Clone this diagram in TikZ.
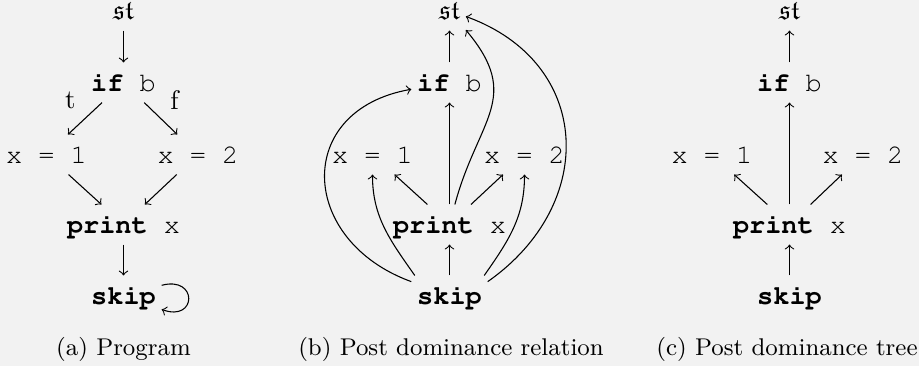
\documentclass[tikz,border=0pt]{standalone}
\usepackage{fontspec}
\usepackage{amssymb}
\newcommand\cour{\fontencoding{T1}\fontfamily{pcr}\selectfont}
\definecolor{bgc}{HTML}{F2F2F2}
\begin{document}
\begin{tikzpicture}[x=0.3717pt,y=0.3717pt,
  nd/.style={inner xsep=2pt, inner ysep=0pt, text height=10.4pt, text depth=4.1pt, anchor=base, font=\cour},
  ar/.style={->},
  captxt/.style={anchor=base, font=\small, inner sep=0pt},
  lbl/.style={font=\rmfamily}]
\useasboundingbox (0,0) rectangle (919,366);
\fill[bgc] (0,0) rectangle (919,366);
% (a) Program
\node[nd] (ast) at (123.5,347) {$\mathfrak{st}$};
\node[nd] (aif) at (123.5,275) {\textbf{if} b};
\node[nd] (ax1) at (46.5,203) {x = 1};
\node[nd] (ax2) at (198,203) {x = 2};
\node[nd] (apr) at (123.5,133) {\textbf{print} x};
\node[nd] (ask) at (123.5,62) {\textbf{skip}};
\node[captxt] (acap) at (123.5,11) {(a) Program};
\draw[ar] (ast) -- (aif);
\draw[ar] (aif) -- node[midway,above left,lbl]{t} (ax1);
\draw[ar] (aif) -- node[midway,above right,lbl]{f} (ax2);
\draw[ar] (ax1) -- (apr);
\draw[ar] (ax2) -- (apr);
\draw[ar] (apr) -- (ask);
\draw[ar] (ask) to[out=15,in=-20,min distance=14pt] (ask);
% (b) Post dominance relation
\node[nd] (bst) at (449.5,347) {$\mathfrak{st}$};
\node[nd] (bif) at (449.5,275) {\textbf{if} b};
\node[nd] (bx1) at (372.5,203) {x = 1};
\node[nd] (bx2) at (524.5,203) {x = 2};
\node[nd] (bpr) at (449.5,133) {\textbf{print} x};
\node[nd] (bsk) at (449.5,62) {\textbf{skip}};
\node[captxt] (bcap) at (451,11) {(b) Post dominance relation};
\draw[ar] (bif) -- (bst);
\draw[ar] (bpr) -- (bif);
\draw[ar] (bpr) -- (bx1);
\draw[ar] (bpr) -- (bx2);
\draw[ar] (bsk) -- (bpr);
\draw[ar] (bpr) to[out=75,in=-50,looseness=1.3] (bst);
\draw[ar] (bsk.20) to[out=35,in=-20,looseness=1.3] (bst);
\draw[ar] (bsk) to[out=160,in=190,looseness=1.6] (bif);
\draw[ar] (bsk.150) to[out=125,in=-90] (bx1);
\draw[ar] (bsk.30) to[out=55,in=-90] (bx2);
% (c) Post dominance tree
\node[nd] (cst) at (789.5,347) {$\mathfrak{st}$};
\node[nd] (cif) at (789.5,275) {\textbf{if} b};
\node[nd] (cx1) at (712,203) {x = 1};
\node[nd] (cx2) at (863,203) {x = 2};
\node[nd] (cpr) at (789.5,133) {\textbf{print} x};
\node[nd] (csk) at (789.5,62) {\textbf{skip}};
\node[captxt] (ccap) at (787,11) {(c) Post dominance tree};
\draw[ar] (cif) -- (cst);
\draw[ar] (cpr) -- (cif);
\draw[ar] (cpr) -- (cx1);
\draw[ar] (cpr) -- (cx2);
\draw[ar] (csk) -- (cpr);
\end{tikzpicture}
\end{document}
